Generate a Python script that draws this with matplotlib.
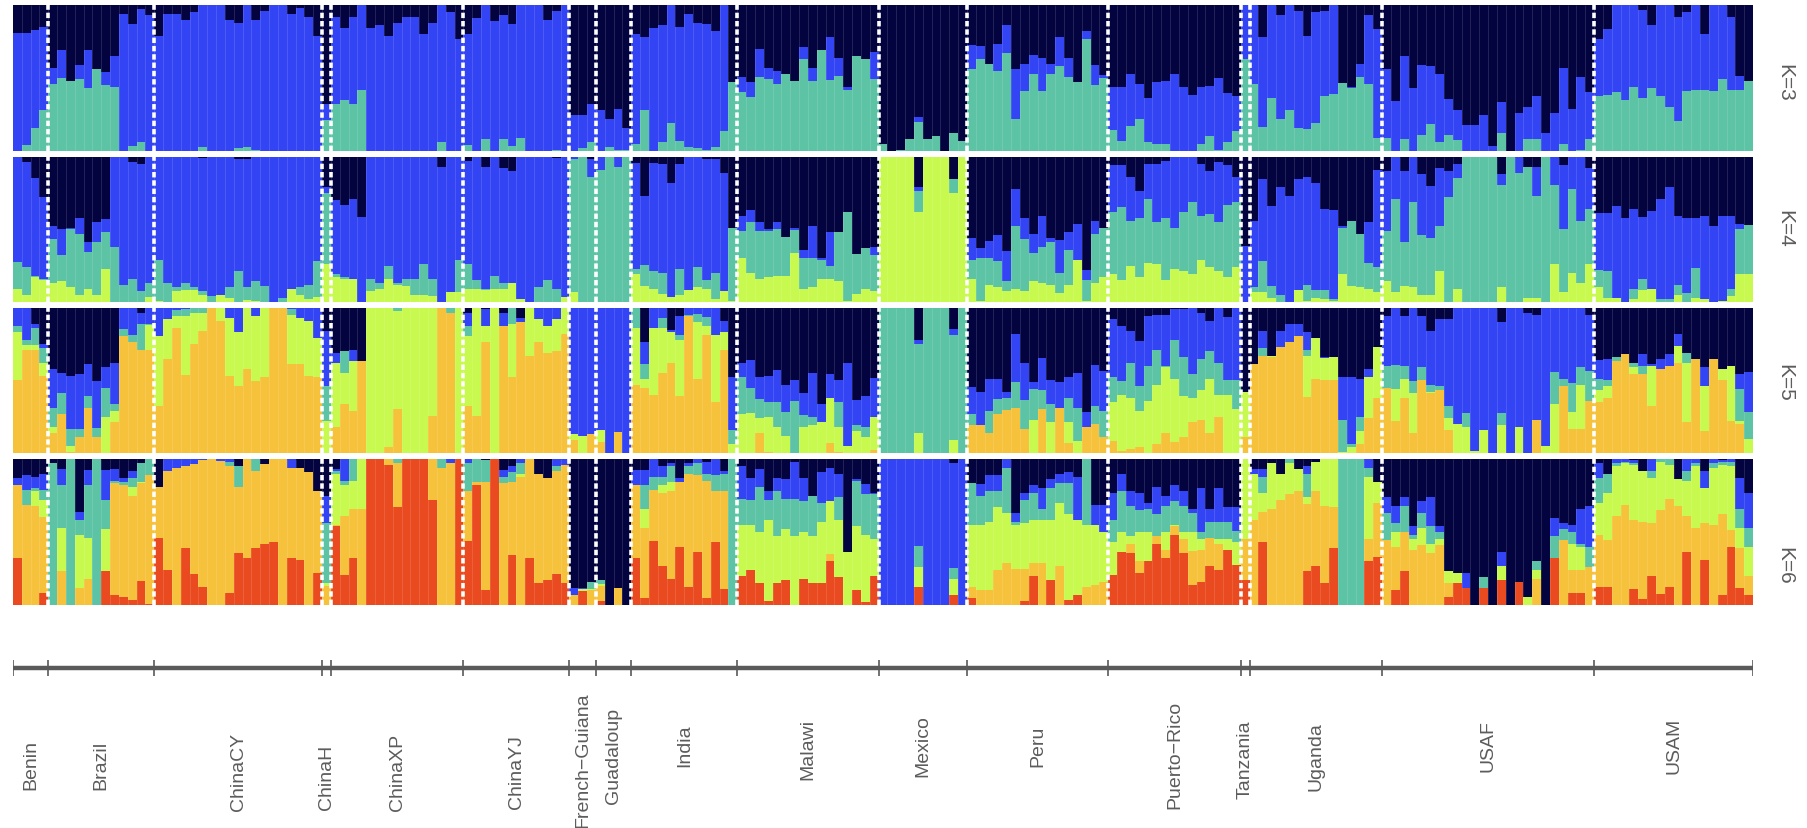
import numpy as np
import matplotlib
matplotlib.use("Agg")
import matplotlib.pyplot as plt

populations = ["Benin","Brazil","ChinaCY","ChinaH","ChinaXP","ChinaYJ","French\u2212Guiana","Guadaloup","India","Malawi","Mexico","Peru","Puerto\u2212Rico","Tanzania","Uganda","USAF","USAM"]
pop_sizes = [4,12,19,1,15,12,3,4,12,16,10,16,15,1,15,24,18]
row_labels = ["K=3","K=4","K=5","K=6"]

# Each row is one individual: cumulative tops (percent) of the colour bands, bottom to top. Navy fills the rest.
k3_bars = [
[0,80.5],[4,81],[16,83],[28,85],
[46,57],[50,69],[48,48],[49,59],[43,69],[56,56.5],[45,54],[43.5,65],[0,94],[3.5,87],[6.5,97],[0,93],
[0,78.5],[0,94],[0,94],[0,90],[0,95],[3,100],[0,100],[0,100],[0,90],[2,88],[2.5,100],[1,90],[0,96],[0,100],[0,100],[0,94],[0,98],[0,92],[0,79],
[21,32],
[32,92],[35,84],[32,92],[42,100],[0,84],[0,86],[0,79],[0,88],[0,92],[0,92],[0,80],[0,88],[6,100],[0,95],[0,77],
[4,80],[0,91],[8,100],[0,89],[8.5,93],[3.5,87],[9,100],[0,100],[0,100],[0,90],[1,96],[0,100],
[0,25],[2,25],[6,32],
[0,28],[3,22],[1,29],[1,16],
[4.5,80],[28,78],[0,84],[6,86],[19,100],[7,85],[3,94],[2,88],[1,87],[3,82],[14,100],[47,47],
[40.5,51],[37,47],[51,70],[49,57],[46,55],[53,53],[48,48],[63,71],[48,57],[69,69],[48.5,78],[51.5,64],[42,44],[65,65],[63,63],[49,68],
[4.5,4.5],[0,0],[1,1],[8.5,8.5],[20,23],[8,8],[10,10],[0,0],[12.5,12.5],[7,7],
[56.5,72.5],[63,72],[59.5,59.5],[55,73],[67,86],[22,56],[41,59.5],[53,66],[41,64],[53,59.5],[58,78],[51,64],[47,47],[77,82],[45,59],[50,52],
[14.5,44],[7,43.5],[17,52.5],[22,46],[6,36],[4.5,47.5],[5,48],[0,53],[0,44],[0,38.5],[5,44],[10,44.5],[1,50],[6,40],[14,38],
[63,100],
[45.8,100],[16.5,78],[36,100],[22,93],[28,100],[16,96],[15,78.5],[19.5,95.5],[38,96],[39,100],[46.5,46.5],[43,43.5],[51,59.5],[46,93],[9,83.5],
[9,56],[0,34],[8,65],[0,43],[11,59],[18.5,58],[6,53],[11,35.5],[7.5,28],[0,18],[0,18],[0,25],[0,3.5],[12.5,33.5],[0,0],[0,26],[8,30],[8,38],[0,12.5],[0,26],[5,57],[0,28.5],[1,51],[8.5,40.5],
[38,77],[38.5,83.5],[40.5,100],[35,100],[43.5,100],[36,96.5],[43,86],[38,100],[30,100],[20.5,91.5],[41,95],[42,100],[42,80],[41,100],[49,100],[42,92],[42,51.5],[48,48],
]

k4_bars = [
[9,27.5,100],[4.5,24,96.5],[17,18,85],[15,16,72],
[13,43,52],[14.5,32,50],[10,50,51],[5,47,58],[9,34.5,41.5],[5,41.5,55],[22.5,48,57],[0,37.5,100],[0,12,100],[0,16,96],[0,7.5,95],[3.5,13,100],
[1,29,100],[0,13,100],[7.5,10,100],[8,13,100],[8,10,100],[5,7.5,99],[0,4,100],[4.5,4.6,100],[3,10,100],[0,21,98.5],[1.5,10,98],[0.7,14.5,100],[0,11,100],[0,0,100],[0,3,100],[8.7,8.7,100],[4.5,10,100],[2,12,100],[3.5,28,100],
[26,75,79],
[17.5,19,70],[16,17.5,67],[15.5,15.5,71],[0,0,58.6],[7.5,15.5,100],[8.7,13,100],[16,25,100],[11.7,13,100],[11,15.5,100],[4.6,15.5,100],[4.6,26,100],[4,15.5,100],[0,0,93],[7,7,100],[7,29,100],
[8.7,26,97],[8.7,15,100],[8,8.7,93],[8.7,18,100],[8.7,13.3,92],[13.3,13.3,90],[2,2,100],[0,0,100],[0,10,100],[0,15,100],[0,8.7,99],[3.5,3.5,100],
[7,98,100],[0,100,100],[0,86,98],
[0,91,100],[0,100,100],[0,93,100],[0,100,100],
[19.5,22.5,95.5],[11,25.5,73],[8.7,21,95.5],[5.7,20,95],[3.5,3.5,82],[5,22.5,95],[8,8,100],[10,24,100],[8.7,15,98.4],[2,20,98.4],[7.5,7.5,88.5],[0.7,51,51],
[30,48.5,59],[20,54.7,63],[15.6,49,54.7],[17,48.5,50],[18,50,54.7],[18,45,45],[34,49.4,51],[8.7,30,36],[10,30,52],[15.6,29,30],[15.6,25,48],[14.5,48,48],[0.7,62,62],[5.7,33,33],[8.7,37,37],[7.5,32,38],
[100,100,100],[100,100,100],[100,100,100],[100,100,100],[62,76.5,79],[100,100,100],[100,100,100],[100,100,100],[75,84.6,84.6],[100,100,100],
[15.6,29,44],[0.7,30,37],[11.7,30,41.6],[10,28,46],[7.5,14.5,35],[8.7,52,77.7],[7.5,43,58],[14.5,33.5,47],[13,37.5,59],[12,41,44],[6.4,20,42.5],[12,36,48],[29,29,53.5],[0.7,15,22],[13,46.7,56],[17,51,51],
[19,61.6,94],[15,65,94],[25,56,86],[17,58,76.5],[27,71,95],[26,54.7,95],[15,57.5,97],[23,51,100],[21,61.6,100],[19.5,68.5,100],[29,59,95],[24,60.5,90],[21,54.7,96],[17,67,94],[24,68.5,86],
[0,0,38.6],
[7,10,56],[7,28,84.5],[3,11,66],[0,5,79],[0,0,73],[8,8,84.5],[1,12,85.6],[2.5,8,82],[2,8,64],[0.7,2,63],[19,51,52],[11,56,56],[10,47,47],[8.7,27,55],[7,24,91],
[14.5,49,90],[7,71,100],[11,41,90],[10,68.6,100],[5,46,88],[5,44,80],[21,52,92],[0,72,90],[8.7,85,95],[0,100,100],[0,100,100],[0,100,100],[0,100,100],[10,80.5,88],[0,100,100],[0,89,100],[3,93,93],[3,73,93],[0,100,100],[26,80.5,100],[7,50,94],[20,78,100],[13,56,100],[26,64,92],
[10,22,61.5],[3,21,61],[3,3,66],[0,0,58],[2,8.7,64],[8,15.6,58.6],[8.7,8.7,62.7],[0,2,70.8],[0,2,78.8],[5,12,59],[0,6.5,58],[3,23.5,57.8],[2,2,59],[0,0,52.4],[1,1,59],[4,9,58.8],[19,50,53.5],[19,53,53],
]

k5_bars = [
[50,83,87,100],[71,74,78,100],[71,74,86,88.5],[53,62,72.5,75],
[14,17.6,31,57.7],[27,27,41,55],[0.5,5,16.5,53],[10.7,10.7,16.5,54],[30.6,30.6,39,61],[10.7,10.7,17,49.6],[0,25,45,59],[21,28.6,34,62],[80.5,80.5,85,100],[76,76,81,100],[71,71,88.5,96.5],[70.7,88,88.5,100],
[32.5,80.5,80.5,100],[64.5,92,92,100],[86,94,98.5,100],[53.5,94,99,100],[75,96,99.5,100],[84,96,99.5,100],[100,100,100,100],[91,100,100,100],[53,93,93,100],[46,83,83,100],[57.7,100,100,100],[49.6,94,94,100],[52,100,100,100],[100,100,100,100],[100,100,100,100],[61,95,99,100],[61,93,93,100],[53,91,91,100],[52,79,79,100],
[0,22,46,84],
[17.6,62,62,69],[34,55,70,70],[29,63,63,71],[63,63,63,63],[0,100,100,100],[0,100,100,100],[4.3,100,100,100],[30,97.7,100,100],[0,100,100,100],[0,100,100,100],[0,100,100,100],[25.6,100,100,100],[100,100,100,100],[96,96,100,100],[0,100,100,100],
[32,80.5,87,96.5],[25.6,100,100,100],[76,87,87,99],[0,100,100,100],[87,87,87,96],[52,89,100,100],[90,90,90,93],[67,100,100,100],[76,92,92,100],[69,87,87,100],[70,92,92,100],[82,100,100,100],
[9,13,13,100],[0,11.4,11.4,100],[13,13,13,100],
[7.3,16,16,100],[0,0,0,100],[14.6,14.6,14.6,100],[0,0,0,100],
[47,86,100,100],[45,51,61.5,76],[40,86,86,100],[55,86,92.7,100],[62,83,83,84.7],[39,77.6,81,94],[94,94,94.7,100],[51,90,95.4,100],[81,87,93.6,100],[35,81,81,100],[71,83,83,91],[0,6,16,52],
[0,27,52,62],[0,27.5,45,64],[14,24,37,52],[0.5,25,35,53],[0,17.6,35,57],[0,12,28,47],[0,0,36,50],[0,17.6,26,41],[0,19,25,55],[0,21,21,33.6],[6.6,38,38,54],[0.5,17.6,35,50],[0,5,5,61.6],[0,15,19,36.6],[0,10.7,17.6,39],[2,24.5,24.5,51.5],
[0,0,100,100],[0,0,100,100],[0,0,100,100],[0,0,100,100],[0,14,75,78],[0,0,100,100],[0,0,100,100],[0,0,100,100],[0,9,81,85],[0,0,100,100],
[19,19,27,45.5],[19,19,19,42],[14,14,28.6,51],[27,27,37,51],[29.5,29.5,38,41.6],[31,31,49,82],[16.5,16.5,36.6,62],[0,23,44,49],[30,30,43,65],[0,21,33.6,50],[31,31,31,48.5],[7,21,38,52],[0,8.5,31,55],[17.6,17.6,17.6,28],[20,20,32,60.4],[10.7,10.7,29,56.5],
[8.5,35,52,92],[1.6,40,49.6,87.4],[2.7,38,62,84],[4,29,46,77],[0,36,60,94],[6,47,71,95],[13.5,58.8,60,95],[7.3,51,78,99],[11,39,65.7,99],[21,38,54,100],[23,43,64.5,96.5],[13.5,51,70,91],[25,40,62,100],[0,40,50,93.6],[0,30,50,100],
[11,42,42,42],
[61,61,61,61],[66.8,66.8,72,84],[66,66.8,66.8,66.8],[73,73,73,84],[76,76,76,88.5],[80.5,80.5,80.5,88.5],[38.7,66.8,70.7,83],[51,79,79,79],[50,65,65,66],[50,66,66,66],[0,0.5,22.6,52],[0,4,6,52],[6,15,25,51],[24,52,52,57.7],[38,73,73,73],
[45,45,60,94],[22,44,60.4,100],[37.5,51,60,94],[14,41,49.6,100],[50,50,59,94],[41,41.6,47,84],[43,43,46,92],[16,24,32,92],[0,20,20,100],[0,17.6,27.5,100],[0,1.6,1.6,100],[0,16,16,100],[0,0,0,100],[0,19,27.5,90],[0,0,0,100],[0,18,18,100],[0,0,0,96.5],[23,23,23,95],[0,5,5,100],[0,34,56,100],[46,46,51,100],[16.5,28,48,100],[16.5,46.7,59,100],[36,36,56.5,95],
[35,43,51,64],[38,46,50,64.5],[63,63,66,66],[68,68,68,68],[54,59,62,62],[54,54,60,68],[32.5,60,60,61],[58,58,58,64.5],[60,60,60,68],[62,73.7,73.7,82],[21,62,69,69],[64.5,64.5,64.5,64.5],[15,46,46,59],[64.5,64.5,64.5,64.5],[50,57.7,57.7,57.7],[22,60,60,60],[20,22,44,54],[0,9.6,28,56],
]

k6_bars = [
[32.5,82,82,82,87],[0,68.6,68.6,79,89],[0,68,78,80,88],[8,60,72,79,90],
[0,0,0,97,97],[0,23,53,82,93],[0,0,0,100,100],[0,11.4,48,58,64],[0,18,46,82,92.6],[0,0,0,100,100],[23,23,52,72,92.6],[7,83.5,83.5,85,93],[5.7,82,82,84,87],[3.4,75,81,87,91.5],[16.7,83.5,84,97,97],[1,89,89,100,100],
[46,81,81,81,81],[24,92,92,92,100],[0,94,94,94,100],[39,95,95,95,100],[21,96.5,96.5,96.5,100],[12,99,99,99,100],[0,100,100,100,100],[0,98.5,98.5,98.5,100],[8.5,95,95,98,100],[35.5,81,81,95,95],[32.5,100,100,100,100],[39,92,92,100,100],[42,96.5,96.5,96.5,96.5],[43,100,100,100,100],[0,100,100,100,100],[32,94,94,94,100],[31,94,94,94,94],[0,91,91,91,91],[22,78,78,78,78],
[0,13,15,56,75],
[54,55,90,92,93],[20.6,61,82,85,100],[32,66,85,100,100],[0,66,100,100,100],[100,100,100,100,100],[100,100,100,100,100],[96,100,100,100,100],[67,97,97,100,100],[100,100,100,100,100],[100,100,100,100,100],[100,100,100,100,100],[72,100,100,100,100],[0,94,94,100,100],[0,97,97,97,100],[100,100,100,100,100],
[44,78,78,97,100],[82,84,84,100,100],[10,84,84,99,99],[100,100,100,100,100],[0,83.5,83.5,88,92.6],[34,84,84,91,95],[0,88,90,97,100],[32,100,100,100,100],[15,90,90,90,90],[17,87,87,87,87],[21,92,92,95,100],[15,96,96,96,100],
[0,7,7,7,11.4],[9.6,9.6,11,11,11.4],[0,10,11,16,16],
[3,13,14.5,17,17],[0,0,0,0,0],[0,11.4,11.4,11.4,11.4],[0,0,0,0,0],
[32,82,82,82,92.6],[4.6,52.6,66,82,92.6],[44,79,79,88,100],[27,76.6,82,88,95],[18,78,84,95,97],[39.6,84,84,84,87],[12.6,90,90,95,97],[36.6,89,89,97,100],[5,85,85,90,98],[43,78,78,89,100],[10.8,78,78,90,92],[0,0,0,100,100],
[20,20,55,72.5,95],[24,24,55,72,87],[15,15,50,80.5,93],[3,3,58,72,78],[15,15,47,78,87],[17,17,52,72.5,86],[0,0,47,72.5,98],[18,18,50,71,87],[15,15,47,75,75],[15,15,57,70,91],[30,35,71,71,94],[19,19,58,73.7,90],[0,0,36.6,36.6,36.6],[10,10,54,85,86],[2,2,48,76,83],[20,20,45,76,76.6],
[0,0,0,0,100],[0,0,0,0,100],[0,0,0,0,100],[0,0,0,0,100],[12,12,26,40.5,100],[0,0,0,0,100],[0,0,0,0,100],[0,0,0,0,100],[7,7,18,25.6,97],[0,0,0,0,100],
[4.6,12.6,55,83.5,83.5],[0,10,55,75,83],[0,10,57,78,89],[0,24,67,78,89],[0,28.6,63,94,100],[0,25,55,57,63],[3,25,56,72,77],[20,28.6,58,77,82],[0,29,58,66,80],[17,17,58,80,86],[0,27,70,83.5,90],[3.4,3.4,62,83.5,91],[7,7,58,58,88],[0,12.6,55,100,100],[0,14,55,55,68.5],[0,16,50,50,68.5],
[20.6,20.6,43,58,77],[36,36,50,78,90],[35.5,42,47,68,78],[22,30,50,65,77],[30,30,50,66,70],[42,47,47,62,81],[32,38,50,68,75],[48,54,55,71,82],[35.5,45,50,68,78],[14,37,50,63,66],[16,38,45,50,80],[27,46,46,57,66],[24,42,45,57,80],[38,38,45,57,67],[27.5,27.5,43,51,67],
[17,45,100,100,100],
[0,58,90,90,93],[43,64,77,88,93],[0,66,97,97,97],[0,72,90,90,90],[0,76,97,100,100],[0,78,93,93,93],[23.6,69,74,90,95],[27,78,98,98,98],[15,68,100,100,100],[39,67,100,100,100],[0,0,0,100,100],[0,0,0,100,100],[0,0,0,100,100],[30,45,88,94,100],[33,70,84,84,84],
[0,44.6,44.6,63,74],[10,40,50,56,68],[23,50,50,68,74],[0,38,45,48,54],[0,41,52.6,63,71],[0,35.5,42,54,74],[0,41,45,50,54],[5.5,15,23,23,23],[15,15,22,22,22],[11.4,11.4,11.4,11.4,22],[0,0,0,0,0],[11.4,11.4,11.4,19,19],[0,0,0,0,0],[17,17,27,27,36.6],[0,0,0,0,0],[16,16,16,16,16],[0,0,5.5,5.5,5.5],[0,18,24,30,30],[0,0,0,0,0],[32,32,32,47,59.5],[0,44.6,44.6,52,56],[8.5,24,42,50,55],[8,24,40,42,66],[0,26,26,40,67.5],
[12,48,70,87,97],[12.6,44.6,77,90,90],[0,61,95,97,100],[0,68.6,97,98,100],[10.8,58,96,97,99],[4,57,92,92,92],[20,56,87,92,100],[7.5,65,98,100,100],[12.6,72.5,96,100,100],[0,67.5,86,86,86],[36.6,61,85,92,100],[0,52.6,95,97,100],[31,56,80,80,91.5],[0,55,94,97,100],[7,62,96,98,99],[39.6,51.5,95,98,100],[11.4,39,53,65.7,87],[7,20,40,53,76.5],
]

NAVY, BLUE, TEAL, LIME, ORANGE, RED = "#03033f", "#3344f5", "#5dc3a5", "#c8f94e", "#f6c23c", "#e94a20"
row_colors = [
    [TEAL, BLUE, NAVY],
    [LIME, TEAL, BLUE, NAVY],
    [ORANGE, LIME, TEAL, BLUE, NAVY],
    [RED, ORANGE, LIME, TEAL, BLUE, NAVY],
]
all_rows = [k3_bars, k4_bars, k5_bars, k6_bars]

W, H = 1807, 829
X0, X1 = 13, 1753
row_px = [(6, 152), (157.5, 303), (308.5, 454), (460, 606)]
label_y = [765, 765, 772, 777, 772, 772, 760, 756, 746, 749, 746, 746, 755, 760, 757, 746, 746]
k_y = [83, 229, 383, 566]

plt.rcParams["font.family"] = ["Liberation Sans", "DejaVu Sans"]
fig = plt.figure(figsize=(W / 100, H / 100), dpi=100, facecolor="white")
n = sum(pop_sizes)
edges = np.cumsum([0] + pop_sizes)
x = np.arange(n)

def make_ax(top, bottom):
    ax = fig.add_axes([X0 / W, 1 - bottom / H, (X1 - X0) / W, (bottom - top) / H])
    ax.set_xlim(0, n)
    ax.axis("off")
    return ax

for bars, colors, (top, bottom), lab, ky in zip(all_rows, row_colors, row_px, row_labels, k_y):
    ax = make_ax(top, bottom)
    ax.set_ylim(0, 100)
    tops = np.maximum.accumulate(np.array(bars, dtype=float), axis=1)
    tops = np.column_stack([tops, np.full(n, 100.0)])
    base = np.zeros(n)
    for j, col in enumerate(colors):
        ax.bar(x, tops[:, j] - base, bottom=base, width=1.0, align="edge", color=col, linewidth=0)
        base = tops[:, j]
    ax.vlines(np.arange(1, n), 0, 100, color="white", alpha=0.13, linewidth=0.7)
    ax.vlines(edges[1:-1], 0, 100, color="white", linewidth=2.6, linestyles=(0, (1.5, 0.8)))
    fig.text(1785 / W, 1 - ky / H, lab, rotation=270, ha="center", va="center", fontsize=15, color="#5c5c5c")

axis = make_ax(655, 683)
axis.set_ylim(683, 655)
axis.hlines(669, 0, n, color="#5a5a5a", linewidth=3.2)
axis.vlines(edges, 661, 677, color="#5a5a5a", linewidth=1.2)

mids = (edges[:-1] + edges[1:]) / 2
for m, name, ly in zip(mids, populations, label_y):
    fig.text((X0 + (X1 - X0) * m / n) / W, 1 - ly / H, name, rotation=90, ha="center", va="center",
             fontsize=14, color="#5c5c5c")

fig.savefig("out.png", dpi=100, facecolor="white")
